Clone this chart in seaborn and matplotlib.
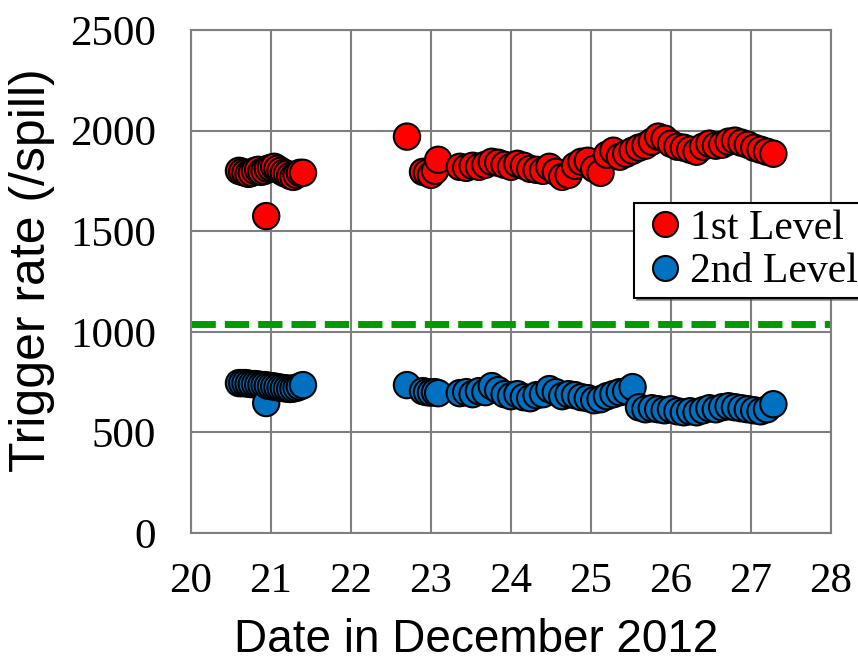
import numpy as np
import pandas as pd
import matplotlib
matplotlib.use("Agg")
import matplotlib.pyplot as plt
import seaborn as sns

# dates (day of December 2012) and trigger rates per spill
date_a = [20.60, 20.64, 20.68, 20.72, 20.76, 20.80, 20.84, 20.88, 20.92, 20.94,
          20.96, 21.00, 21.04, 21.08, 21.12, 21.16, 21.20, 21.24, 21.28, 21.32,
          21.36, 21.40]
lvl1_a = [1800, 1795, 1790, 1785, 1790, 1800, 1805, 1795, 1800, 1575,
          1810, 1815, 1820, 1810, 1800, 1790, 1785, 1775, 1770, 1780,
          1790, 1790]
lvl2_a = [745, 745, 745, 742, 740, 740, 738, 735, 735, 646,
          732, 730, 728, 725, 722, 720, 718, 716, 718, 722,
          728, 735]

date_b = [22.70, 22.90, 22.95, 23.00, 23.05, 23.09,
          23.36, 23.44, 23.52, 23.60, 23.68, 23.76, 23.84, 23.92, 24.00, 24.08,
          24.16, 24.24, 24.32, 24.40, 24.48, 24.56, 24.64, 24.72, 24.80, 24.88,
          24.96, 25.04, 25.12, 25.20, 25.28, 25.36, 25.44, 25.52, 25.60, 25.68,
          25.76, 25.84, 25.92, 26.00, 26.08, 26.16, 26.24, 26.32, 26.40, 26.48,
          26.56, 26.64, 26.72, 26.80, 26.88, 26.96, 27.04, 27.12, 27.20, 27.28]
lvl1_b = [1970, 1795, 1790, 1780, 1800, 1855,
          1820, 1815, 1825, 1820, 1830, 1845, 1840, 1830, 1820, 1835,
          1825, 1810, 1805, 1800, 1820, 1795, 1770, 1780, 1825, 1845,
          1850, 1810, 1790, 1880, 1900, 1870, 1885, 1900, 1915, 1925,
          1945, 1970, 1960, 1935, 1920, 1915, 1905, 1895, 1920, 1935,
          1925, 1930, 1945, 1950, 1940, 1930, 1915, 1905, 1895, 1885]
lvl2_b = [735, 705, 700, 698, 700, 695,
          695, 700, 690, 705, 700, 730, 710, 690, 680, 690,
          675, 670, 685, 690, 715, 700, 680, 690, 685, 675,
          670, 660, 665, 680, 690, 700, 705, 725, 625, 615,
          620, 615, 610, 615, 605, 600, 605, 600, 610, 620,
          615, 625, 630, 625, 620, 615, 610, 605, 615, 640]

threshold = 1040

df = pd.DataFrame({
    "date": date_a + date_b + date_a + date_b,
    "rate": lvl1_a + lvl1_b + lvl2_a + lvl2_b,
    "level": ["1st Level"] * (len(date_a) + len(date_b)) + ["2nd Level"] * (len(date_a) + len(date_b)),
})

sns.set_style("white")
plt.rcParams["font.family"] = ["Liberation Serif", "DejaVu Serif"]
plt.rcParams["text.color"] = "black"
plt.rcParams["axes.labelcolor"] = "black"
plt.rcParams["xtick.labelcolor"] = "black"
plt.rcParams["ytick.labelcolor"] = "black"

fig = plt.figure(figsize=(8.58, 6.68), dpi=100)
ax = fig.add_axes([0.2226, 0.2021, 0.7459, 0.7530])

sns.scatterplot(data=df, x="date", y="rate", hue="level",
                palette={"1st Level": "#FF0000", "2nd Level": "#0070C0"},
                s=360, edgecolor="black", linewidth=1.5, ax=ax, zorder=3, legend=True)

ax.axhline(threshold, color="#009A00", linewidth=5, linestyle=(0, (3.5, 1.3)), zorder=2)

ax.set_xlim(20, 28)
ax.set_ylim(0, 2500)
ax.set_xticks(range(20, 29))
ax.set_yticks(range(0, 2501, 500))
ax.grid(True, color="#7F7F7F", linewidth=1.5)
ax.set_axisbelow(True)
for sp in ax.spines.values():
    sp.set_color("#7F7F7F")
    sp.set_linewidth(1.5)

ax.tick_params(axis="x", direction="out", length=8.6, width=1.5, color="#7F7F7F",
               labelsize=31, pad=13)
ax.tick_params(axis="y", length=0, labelsize=31, pad=25)

ax.set_xlabel("Date in December 2012", fontsize=33, family="Liberation Sans")
ax.set_ylabel("Trigger rate (/spill)", fontsize=36, family="Liberation Sans")
ax.xaxis.set_label_coords(0.445, -0.169)
ax.yaxis.set_label_coords(-0.213, 0.523)

leg = ax.legend(loc="upper left", bbox_to_anchor=(0.739, 0.696), bbox_transform=fig.transFigure,
                fontsize=30, frameon=True, fancybox=False, shadow=True, markerscale=0.95,
                handletextpad=0.0, borderpad=0.15, labelspacing=0.12, borderaxespad=0,
                handlelength=1.2)
leg.get_frame().set_edgecolor("black")
leg.get_frame().set_linewidth(1.5)

fig.savefig("out.png", dpi=100)
